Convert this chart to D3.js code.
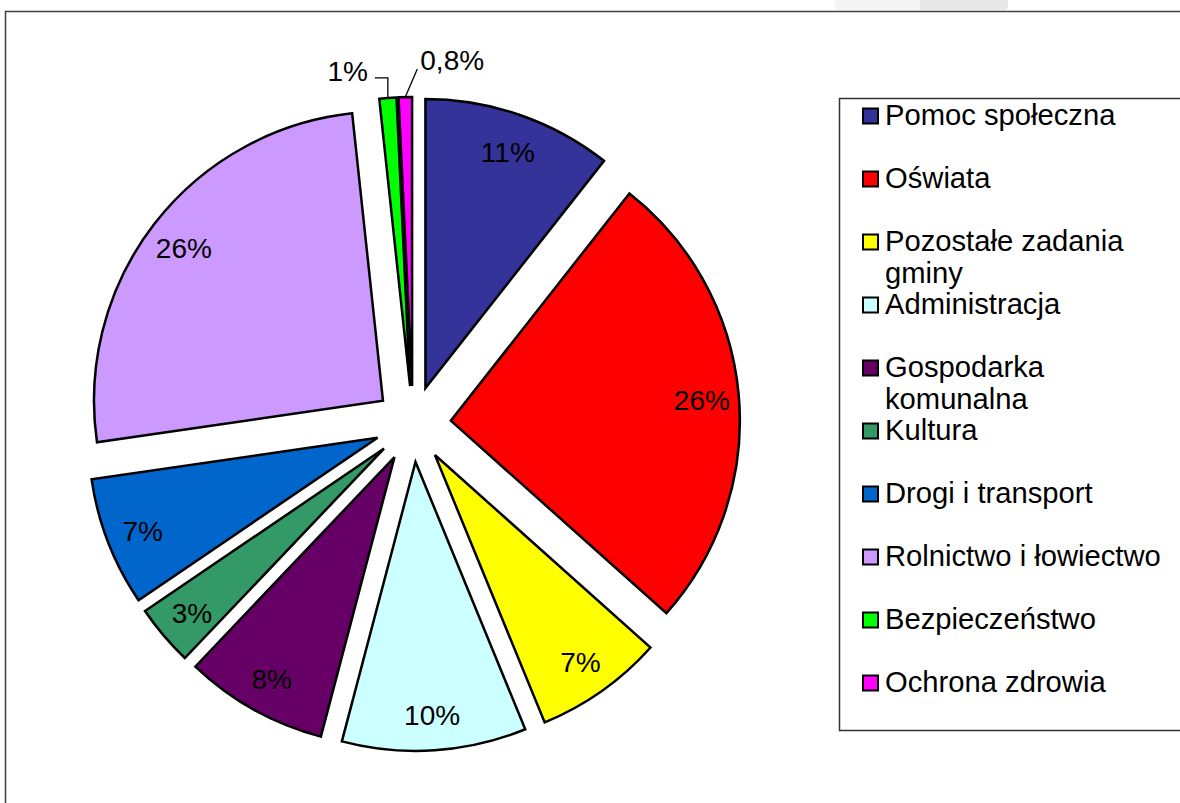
<!DOCTYPE html>
<html><head><meta charset="utf-8">
<script src="https://cdn.jsdelivr.net/npm/d3@7"></script>
<style>
body{margin:0;background:#fff;overflow:hidden}
svg{display:block}
text{font-family:"Liberation Sans",Arial,sans-serif;fill:#000}
</style>
</head><body>
<svg id="c" width="1180" height="803"></svg>
<script>
// ---- data ----
const categories = ["Pomoc społeczna","Oświata","Pozostałe zadania gminy","Administracja","Gospodarka komunalna","Kultura","Drogi i transport","Rolnictwo i łowiectwo","Bezpieczeństwo","Ochrona zdrowia"];
const values = [10.6, 26, 7.2, 10.3, 8, 3.4, 7.2, 25.6, 0.95, 0.75];
const labels = ["11%","26%","7%","10%","8%","3%","7%","26%","1%","0,8%"];
const colors = ["#333399","#FF0000","#FFFF00","#CCFFFF","#660066","#339966","#0066CC","#CC99FF","#00FF00","#FF00FF"];

// ---- layout ----
const svg = d3.select("#c");
const cx = 413, cy = 424, R = 289, explode = 38, labelR = 252;
const FS = 28, LFS = 29.2;

// faint screenshot artefact at top
svg.append("path").attr("d","M835,0H920V6Q920,10 916,10H839Q835,10 835,6Z").attr("fill","#f5f5f5");
svg.append("path").attr("d","M920,0H1008V6Q1008,10 1004,10H920Z").attr("fill","#e8e8e8");

// chart frame
svg.append("path").attr("d","M1190,11.5H5.5V810").attr("fill","none").attr("stroke","#404040").attr("stroke-width",1.5);

const pie = d3.pie().sort(null).value(d => d).startAngle(0).endAngle(2*Math.PI);
const arcs = pie(values);
const arc = d3.arc().innerRadius(0).outerRadius(R);

function offset(a, dist){
  const m = (a.startAngle + a.endAngle)/2;
  return [Math.sin(m)*dist, -Math.cos(m)*dist];
}

const g = svg.append("g").attr("transform",`translate(${cx},${cy})`);
g.selectAll("path.slice").data(arcs).join("path")
  .attr("class","slice")
  .attr("transform", d => { const o = offset(d, explode); return `translate(${o[0]},${o[1]})`; })
  .attr("d", arc)
  .attr("fill", (d,i) => colors[i])
  .attr("stroke","#000").attr("stroke-width",2.5).attr("stroke-linejoin","miter");

// labels
arcs.forEach((d,i) => {
  const o = offset(d, explode);
  const small = values[i] < 2;
  if (!small) {
    const p = offset(d, labelR);
    g.append("text").attr("x", o[0]+p[0]).attr("y", o[1]+p[1]).attr("dy","0.42em")
      .attr("text-anchor","middle").attr("font-size",FS).text(labels[i]);
  } else {
    const p = offset(d, R);
    const x0 = o[0]+p[0], y0 = o[1]+p[1];
    if (i === 8) {
      const pts = [[x0,y0],[x0,y0-20],[x0-13,y0-20]];
      g.append("path").attr("d", d3.line()(pts)).attr("fill","none").attr("stroke","#000").attr("stroke-width",1.3);
      g.append("text").attr("x", x0-20).attr("y", y0-17).attr("text-anchor","end").attr("font-size",FS).text(labels[i]);
    } else {
      const pts = [[x0,y0],[x0+12,y0-28]];
      g.append("path").attr("d", d3.line()(pts)).attr("fill","none").attr("stroke","#000").attr("stroke-width",1.3);
      g.append("text").attr("x", x0+15).attr("y", y0-27).attr("text-anchor","start").attr("font-size",FS).text(labels[i]);
    }
  }
});

// legend
const lx = 839.5, ly = 98.5;
svg.append("rect").attr("x",lx).attr("y",ly).attr("width",420).attr("height",632)
  .attr("fill","#fff").attr("stroke","#333").attr("stroke-width",1.5);
const step = 63, firstY = 116, maxW = 290, lineH = 32;
categories.forEach((name,i) => {
  const yc = firstY + i*step;
  svg.append("rect").attr("x",863).attr("y",yc-7.5).attr("width",15).attr("height",15)
    .attr("fill",colors[i]).attr("stroke","#000").attr("stroke-width",2);
  const t = svg.append("text").attr("x",885).attr("y",yc+9).attr("font-size",LFS);
  // simple word wrap
  const words = name.split(" ");
  let line = [], ts = t.append("tspan").attr("x",885).attr("dy",0);
  words.forEach(w => {
    line.push(w);
    ts.text(line.join(" "));
    if (ts.node().getComputedTextLength() > maxW && line.length > 1) {
      line.pop(); ts.text(line.join(" "));
      line = [w];
      ts = t.append("tspan").attr("x",885).attr("dy",lineH).text(w);
    }
  });
});
</script>
</body></html>
